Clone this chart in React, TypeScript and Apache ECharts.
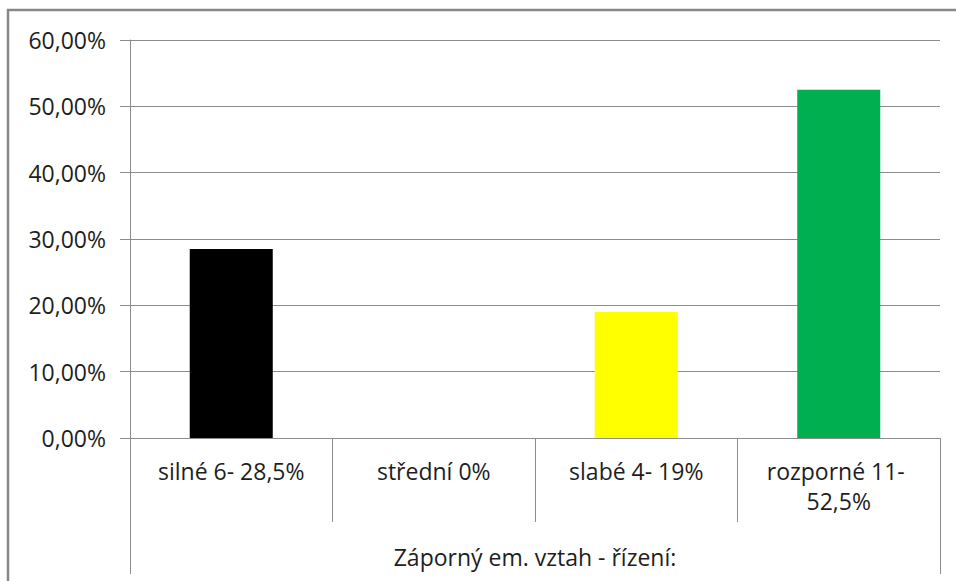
import React, { useEffect, useRef } from "react";
import * as echarts from "echarts";

const categories = ["silné 6- 28,5%", "střední 0%", "slabé 4- 19%", "rozporné 11- 52,5%"];
const values = [28.5, 0, 19, 52.5];
const barColors = ["#000000", "#FFFF00", "#FFFF00", "#00B050"];
const groupLabel = ["Záporný em. vztah - řízení:"];
const yMin = 0;
const yMax = 60;
const yStep = 10;

const FONT = "Open Sans";
const GREY = "#8c8c8c";
const TEXT = "#1e1e1e";

export default function App() {
  const ref = useRef<HTMLDivElement>(null);
  useEffect(() => {
    if (!ref.current) return;
    const chart = echarts.init(ref.current, null, { renderer: "svg" });
    chart.setOption({
      animation: false,
      backgroundColor: "#ffffff",
      textStyle: { fontFamily: FONT },
      grid: { left: 130, right: 16, top: 40, bottom: 143, containLabel: false },
      graphic: [
        {
          type: "rect",
          shape: { x: 8, y: 10, width: 1000, height: 1000 },
          style: { fill: "none", stroke: "#888888", lineWidth: 2.5 },
          silent: true,
        },
      ],
      xAxis: [
        {
          type: "category",
          data: categories,
          position: "bottom",
          axisLine: { show: true, lineStyle: { color: GREY, width: 1 } },
          axisTick: { show: true, length: 84, alignWithLabel: false, interval: 0, lineStyle: { color: GREY, width: 1 } },
          axisLabel: {
            interval: 0,
            margin: 18,
            fontSize: 23,
            fontFamily: FONT,
            color: TEXT,
            width: 172,
            overflow: "break",
            lineHeight: 30,
          },
          splitLine: { show: false },
        },
        {
          type: "category",
          data: groupLabel,
          position: "bottom",
          offset: 0,
          axisLine: { show: false },
          axisTick: { show: true, length: 136, alignWithLabel: false, lineStyle: { color: GREY, width: 1 } },
          axisLabel: { margin: 107, fontSize: 23, fontFamily: FONT, color: TEXT },
          splitLine: { show: false },
        },
      ],
      yAxis: {
        type: "value",
        min: yMin,
        max: yMax,
        interval: yStep,
        axisLine: { show: true, lineStyle: { color: GREY, width: 1 } },
        axisTick: { show: true, length: 10, lineStyle: { color: GREY, width: 1 } },
        axisLabel: {
          margin: 24,
          fontSize: 23,
          fontFamily: FONT,
          color: TEXT,
          formatter: (v: number) => v.toFixed(2).replace(".", ",") + "%",
        },
        splitLine: { show: true, lineStyle: { color: GREY, width: 1 } },
      },
      series: [
        {
          type: "bar",
          xAxisIndex: 0,
          barWidth: "41%",
          data: values.map((v, i) => ({ value: v, itemStyle: { color: barColors[i] } })),
        },
      ],
    });
    return () => chart.dispose();
  }, []);
  return (
    <div
      ref={ref}
      style={{ position: "fixed", left: 0, top: 0, width: 956, height: 581, background: "#fff" }}
    />
  );
}
